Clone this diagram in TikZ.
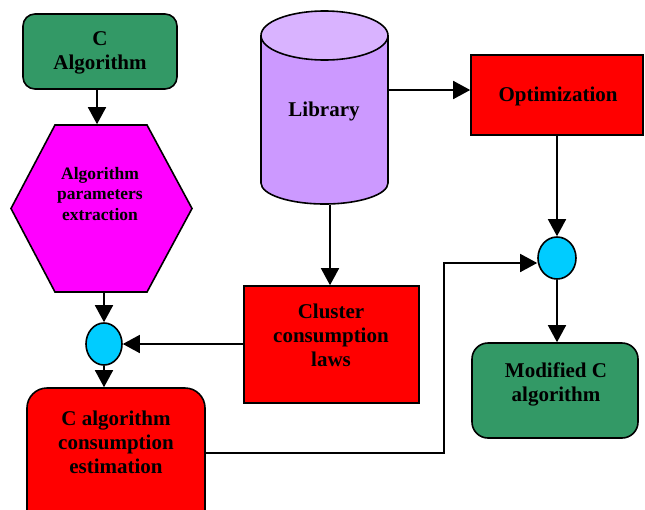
\documentclass[tikz,border=0pt]{standalone}
\usepackage{fontspec}
\setmainfont{Liberation Serif}
\usetikzlibrary{arrows.meta,shapes.geometric}
\definecolor{grn}{RGB}{51,153,102}
\definecolor{rd}{RGB}{255,0,0}
\definecolor{mag}{RGB}{255,0,255}
\definecolor{cyn}{RGB}{0,204,255}
\definecolor{libbody}{RGB}{204,153,255}
\definecolor{libtop}{RGB}{217,179,255}
\begin{document}
\begin{tikzpicture}[x=1pt,y=-1pt,line width=1.6pt,
  arr/.style={-{Triangle[length=17pt,width=18pt]}},
  box/.style={draw,line width=1.6pt,inner sep=0pt},
  txt/.style={align=center,inner sep=0pt,font=\fontsize{21}{24}\selectfont\bfseries},
  stxt/.style={align=center,inner sep=0pt,font=\fontsize{17.5}{20.5}\selectfont\bfseries},
  dot/.style={draw,line width=1.6pt,fill=cyn,ellipse,inner sep=0pt,minimum width=36pt,minimum height=42pt}]
\useasboundingbox (0,0) rectangle (645,509);
% C Algorithm
\node[box,fill=grn,rounded corners=12pt,minimum width=154pt,minimum height=75pt] (calg) at (100,51.5) {};
\node[txt] (calgt) at (100,53) {C\\Algorithm};
% hexagon
\node[inner sep=0pt,minimum width=181pt,minimum height=167pt] (hex) at (101.5,208.5) {};
\draw[fill=mag] (55,125) -- (147,125) -- (192,208.5) -- (147,292) -- (55,292) -- (11,208.5) -- cycle;
\node[stxt] (hext) at (100,194) {Algorithm\\parameters\\extraction};
% circle 1
\node[dot] (c1) at (104,344) {};
% estimation
\node[box,fill=rd,rounded corners=20pt,minimum width=178pt,minimum height=142pt] (est) at (116,459) {};
\node[txt] (estt) at (116,442) {C algorithm\\consumption\\estimation};
% cluster
\node[box,fill=rd,minimum width=175pt,minimum height=117pt] (clus) at (331.5,344.5) {};
\node[txt] (clust) at (331,335) {Cluster\\consumption\\laws};
% library cylinder
\node[inner sep=0pt,minimum width=127pt,minimum height=193pt] (lib) at (324.5,107.5) {};
\fill[libbody] (261,35.5) -- (261,183) arc[start angle=180,end angle=360,x radius=63.5pt,y radius=21pt] -- (388,35.5) -- cycle;
\draw (261,35.5) -- (261,183) arc[start angle=180,end angle=360,x radius=63.5pt,y radius=21pt] -- (388,35.5);
\draw[fill=libtop] (324.5,35.5) ellipse[x radius=63.5pt,y radius=24.5pt];
\node[txt] (libt) at (324,111) {Library};
% optimization
\node[box,fill=rd,minimum width=172pt,minimum height=80pt] (opt) at (557,95) {};
\node[txt] (optt) at (558,96) {Optimization};
% circle 2
\node[dot,minimum width=38pt] (c2) at (557,258) {};
% modified
\node[box,fill=grn,rounded corners=16pt,minimum width=166pt,minimum height=95pt] (mod) at (555,390.5) {};
\node[txt] (modt) at (556,384) {Modified C\\algorithm};
\coordinate (mid) at (444,350);
% connectors
\draw[arr] ([xshift=-3pt]calg.south) -- ([xshift=-3pt]calg.south |- hex.north);
\draw[arr] (hex.south -| c1) -- (c1.north);
\draw[arr] (c1.south) -- (est.north -| c1);
\draw[arr] (clus.west |- c1.east) -- (c1.east);
\draw[arr] ([xshift=-1.5pt]lib.south -| clus.north) -- ([xshift=-1.5pt]clus.north);
\draw[arr] ([yshift=5pt]opt.west -| lib.east) -- ([yshift=5pt]opt.west);
\draw[arr] (opt.south -| c2) -- (c2.north);
\draw[arr] ([yshift=6pt]est.east) -- ([yshift=6pt]est.east -| mid) |- ([yshift=-5pt]c2.west);
\draw[arr] (c2.south) -- (mod.north -| c2);
\end{tikzpicture}
\end{document}
